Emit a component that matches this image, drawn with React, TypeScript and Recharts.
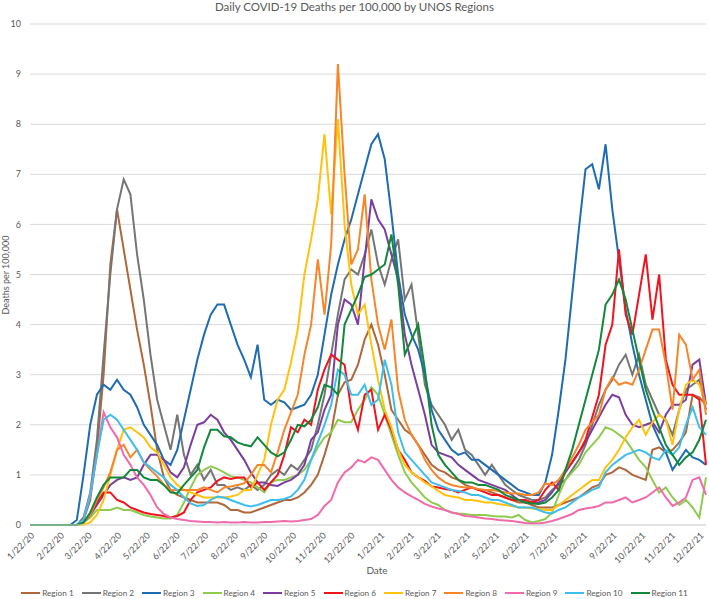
import { LineChart, Line, XAxis, YAxis, CartesianGrid } from "recharts"

// sampled every 7 days starting 1/22/20
const STEP_DAYS = 7

const tickLabels = [
  "1/22/20", "2/22/20", "3/22/20", "4/22/20", "5/22/20", "6/22/20",
  "7/22/20", "8/22/20", "9/22/20", "10/22/20", "11/22/20", "12/22/20",
  "1/22/21", "2/22/21", "3/22/21", "4/22/21", "5/22/21", "6/22/21",
  "7/22/21", "8/22/21", "9/22/21", "10/22/21", "11/22/21", "12/22/21"
]

const yTicks = [0, 1, 2, 3, 4, 5, 6, 7, 8, 9, 10]

const regionNames = [
  "Region 1", "Region 2", "Region 3", "Region 4", "Region 5", "Region 6",
  "Region 7", "Region 8", "Region 9", "Region 10", "Region 11"
]

const regionColors = [
  "#B0683A", "#757575", "#1F6CB0", "#8FCB4F", "#7B3E9E", "#F0141E",
  "#FFC20E", "#F7852A", "#F06AAC", "#3DBFEE", "#12883A"
]

const region1 = [
  0, 0, 0, 0, 0, 0, 0, 0, 0.1, 0.5,
  1.5, 3.0, 5.2, 6.3, 5.5, 4.7, 3.9, 3.2, 2.4, 1.5,
  0.95, 0.7, 0.6, 0.55, 0.5, 0.45, 0.45, 0.45, 0.45, 0.4,
  0.3, 0.3, 0.25, 0.25, 0.3, 0.35, 0.4, 0.45, 0.5, 0.5,
  0.55, 0.65, 0.8, 1.0, 1.4, 1.85, 2.6, 2.85, 2.9, 3.2,
  3.7, 4.0, 3.6, 3.0, 2.3, 2.1, 1.9, 1.8, 1.6, 1.4,
  1.2, 1.1, 1.05, 0.95, 0.9, 0.8, 0.75, 0.7, 0.7, 0.65,
  0.6, 0.55, 0.5, 0.45, 0.45, 0.4, 0.35, 0.35, 0.35, 0.4,
  0.45, 0.5, 0.55, 0.65, 0.75, 0.8, 1.0, 1.05, 1.15, 1.1,
  1.0, 0.95, 0.9, 1.5, 1.55, 1.45, 1.5, 1.65, 1.85, 2.6,
  2.55, 2.4
]

const region2 = [
  0, 0, 0, 0, 0, 0, 0, 0, 0.15, 0.65,
  1.7, 3.4, 5.0, 6.3, 6.9, 6.6, 5.4, 4.5, 3.4, 2.5,
  2.0, 1.5, 2.2, 1.4, 1.0, 1.2, 0.9, 1.1, 0.8, 0.8,
  0.7, 0.75, 0.7, 0.8, 0.7, 0.8, 1.0, 1.1, 1.0, 1.2,
  1.1, 1.3, 1.5, 2.0, 2.6, 3.4, 4.2, 4.9, 5.1, 5.0,
  5.4, 5.9, 5.2, 4.8, 5.3, 5.7, 4.5, 4.8, 3.8, 2.8,
  2.4, 2.2, 2.0, 1.7, 1.9, 1.5, 1.4, 1.2, 1.0, 1.2,
  1.0, 0.8, 0.7, 0.6, 0.55, 0.5, 0.5, 0.55, 0.7, 0.8,
  0.9, 1.1, 1.3, 1.6, 2.0, 2.4, 2.7, 2.9, 3.2, 3.4,
  3.0, 3.4, 2.8, 2.5, 2.2, 2.1, 1.8, 2.3, 2.7, 2.8,
  2.9, 2.3
]

const region3 = [
  0, 0, 0, 0, 0, 0, 0, 0.1, 1.0, 2.0,
  2.6, 2.8, 2.7, 2.9, 2.7, 2.6, 2.35, 2.0, 1.8, 1.6,
  1.3, 1.2, 1.5, 2.1, 2.7, 3.3, 3.8, 4.2, 4.4, 4.4,
  4.0, 3.6, 3.3, 2.95, 3.6, 2.5, 2.4, 2.5, 2.45, 2.3,
  2.35, 2.4, 2.6, 3.0, 3.8, 4.6, 5.2, 5.7, 6.1, 6.6,
  7.1, 7.6, 7.8, 7.3, 6.2, 5.0, 4.2, 3.8, 3.5, 3.0,
  2.3, 1.9, 1.7, 1.5, 1.4, 1.45, 1.3, 1.3, 1.2, 1.1,
  1.0, 0.9, 0.8, 0.7, 0.65, 0.6, 0.6, 0.85, 1.4, 2.3,
  3.3, 4.6, 5.9, 7.1, 7.2, 6.7, 7.6, 6.3, 5.3, 4.3,
  3.6, 3.0, 2.5, 2.0, 1.7, 1.45, 1.1, 1.3, 1.5, 1.35,
  1.3, 1.2
]

const region4 = [
  0, 0, 0, 0, 0, 0, 0, 0, 0.05, 0.15,
  0.3, 0.3, 0.3, 0.35, 0.3, 0.3, 0.25, 0.2, 0.17, 0.15,
  0.13, 0.13, 0.2, 0.45, 0.75, 1.0, 1.1, 1.17, 1.12, 1.05,
  0.97, 0.95, 0.9, 0.85, 0.75, 0.65, 0.85, 0.9, 0.9, 0.95,
  1.0, 1.1, 1.3, 1.55, 1.75, 1.85, 2.1, 2.05, 2.05, 2.3,
  2.5, 2.75, 2.6, 2.2, 1.8, 1.4, 1.05, 0.85, 0.7, 0.55,
  0.45, 0.4, 0.3, 0.25, 0.23, 0.22, 0.2, 0.2, 0.2, 0.18,
  0.17, 0.17, 0.15, 0.2, 0.1, 0.05, 0.08, 0.12, 0.25, 0.6,
  0.9, 1.05, 1.2, 1.45, 1.6, 1.75, 1.95, 1.9, 1.8, 1.7,
  1.5, 1.3, 1.15, 0.9, 0.65, 0.75, 0.55, 0.4, 0.5, 0.35,
  0.15, 0.95
]

const region5 = [
  0, 0, 0, 0, 0, 0, 0, 0, 0.05, 0.2,
  0.4, 0.6, 0.8, 0.9, 0.95, 0.9, 0.95, 1.2, 1.4, 1.4,
  1.3, 1.05, 0.95, 1.15, 1.6, 2.0, 2.05, 2.2, 2.1, 1.85,
  1.7, 1.5, 1.3, 1.05, 0.85, 0.85, 0.8, 0.78, 0.85, 0.9,
  1.0, 1.2, 1.7, 1.85, 2.3, 2.6, 4.0, 4.5, 4.4, 4.0,
  5.3, 6.5, 6.1, 5.9, 5.4, 4.9, 3.8, 3.2, 2.7, 2.2,
  1.6, 1.45, 1.4, 1.35, 1.2, 1.1, 1.0, 0.9, 0.85, 0.8,
  0.75, 0.7, 0.6, 0.5, 0.45, 0.45, 0.45, 0.5, 0.65, 0.85,
  1.05, 1.25, 1.45, 1.65, 1.9, 2.15, 2.4, 2.6, 2.55, 2.2,
  2.0, 1.95, 2.0, 2.05, 1.85, 2.2, 2.4, 2.4, 2.5, 3.2,
  3.3, 2.4
]

const region6 = [
  0, 0, 0, 0, 0, 0, 0, 0, 0.05, 0.2,
  0.45, 0.65, 0.65, 0.5, 0.45, 0.35, 0.3, 0.25, 0.22, 0.2,
  0.18, 0.15, 0.18, 0.25, 0.5, 0.65, 0.7, 0.75, 0.88, 0.95,
  0.92, 0.95, 0.95, 0.75, 0.85, 0.7, 0.85, 1.0, 1.4, 1.95,
  1.85, 2.1, 2.0, 2.7, 3.1, 3.4, 3.3, 3.2, 2.3, 1.9,
  2.6, 2.7, 1.9, 2.2, 1.9, 1.5, 1.3, 1.05, 0.95, 0.88,
  0.77, 0.75, 0.72, 0.7, 0.65, 0.7, 0.75, 0.7, 0.65, 0.6,
  0.6, 0.55, 0.5, 0.5, 0.5, 0.45, 0.5, 0.7, 0.85, 0.7,
  1.1, 1.25, 1.45, 1.7, 2.15, 2.6, 3.6, 4.0, 5.5, 4.2,
  3.8, 4.6, 5.4, 4.1, 5.0, 3.3, 2.8, 2.6, 2.6, 2.6,
  2.5, 1.2
]

const region7 = [
  0, 0, 0, 0, 0, 0, 0, 0, 0, 0.05,
  0.2, 0.5, 1.0, 1.5, 1.9, 1.95, 1.85, 1.75, 1.55, 1.45,
  1.2, 0.95, 0.8, 0.7, 0.65, 0.6, 0.55, 0.55, 0.55, 0.55,
  0.57, 0.6, 0.7, 0.7, 1.0, 1.3, 2.0, 2.5, 2.7, 3.25,
  3.9, 5.0, 5.7, 6.5, 7.8, 6.2, 8.1, 6.0, 4.8, 4.2,
  4.4, 3.6, 2.9, 2.3, 1.95, 1.5, 1.2, 1.05, 0.95, 0.85,
  0.77, 0.68, 0.6, 0.57, 0.55, 0.5, 0.5, 0.48, 0.45, 0.45,
  0.42, 0.4, 0.38, 0.35, 0.35, 0.33, 0.32, 0.3, 0.3, 0.4,
  0.5, 0.6, 0.7, 0.8, 0.9, 0.9, 1.15, 1.3, 1.5, 1.75,
  1.95, 2.1, 1.8, 2.05, 2.2, 2.1, 1.6, 2.3, 2.8, 2.9,
  2.8, 2.4
]

const region8 = [
  0, 0, 0, 0, 0, 0, 0, 0, 0.05, 0.2,
  0.5, 0.75, 1.05, 1.5, 1.6, 1.35, 1.5, 1.25, 1.1, 0.97,
  0.8, 0.7, 0.7, 0.7, 0.7, 0.7, 0.75, 0.7, 0.65, 0.75,
  0.77, 0.8, 0.83, 1.0, 1.2, 1.2, 1.05, 1.45, 1.9, 2.25,
  2.6, 3.4, 4.0, 5.3, 4.2, 5.6, 9.2, 7.0, 5.2, 5.5,
  6.6, 4.9, 4.0, 3.5, 4.1, 2.7, 2.1, 1.8, 1.6, 1.3,
  1.1, 0.95, 0.85, 0.8, 0.77, 0.75, 0.75, 0.72, 0.7, 0.7,
  0.68, 0.65, 0.63, 0.63, 0.6, 0.6, 0.65, 0.83, 0.8, 0.9,
  1.1, 1.35, 1.6, 1.9, 2.05, 2.2, 2.7, 2.95, 2.8, 2.85,
  2.8, 3.1, 3.5, 3.9, 3.9, 3.2, 2.3, 3.8, 3.6, 2.9,
  3.1, 2.2
]

const region9 = [
  0, 0, 0, 0, 0, 0, 0, 0, 0.1, 0.6,
  1.4, 2.25, 1.95, 1.75, 1.4, 1.2, 0.95, 0.8, 0.6, 0.35,
  0.22, 0.15, 0.12, 0.1, 0.08, 0.07, 0.06, 0.06, 0.05, 0.06,
  0.05, 0.05, 0.06, 0.05, 0.05, 0.06, 0.06, 0.07, 0.08, 0.07,
  0.08, 0.1, 0.12, 0.2, 0.38, 0.5, 0.85, 1.05, 1.15, 1.3,
  1.25, 1.35, 1.3, 1.1, 0.9, 0.75, 0.65, 0.57, 0.5, 0.42,
  0.37, 0.33, 0.3, 0.25, 0.22, 0.18, 0.17, 0.15, 0.13, 0.12,
  0.1, 0.09, 0.08, 0.06, 0.04, 0.03, 0.03, 0.05, 0.08, 0.12,
  0.17, 0.22, 0.3, 0.33, 0.35, 0.38, 0.45, 0.45, 0.5, 0.55,
  0.45, 0.5, 0.55, 0.65, 0.75, 0.55, 0.38, 0.45, 0.55, 0.9,
  0.95, 0.6
]

const region10 = [
  0, 0, 0, 0, 0, 0, 0, 0, 0.1, 0.6,
  1.4, 2.1, 2.2, 2.1, 1.9, 1.7, 1.5, 1.25, 1.15, 1.05,
  0.95, 0.8, 0.7, 0.55, 0.43, 0.38, 0.4, 0.5, 0.57, 0.55,
  0.5, 0.45, 0.4, 0.37, 0.4, 0.45, 0.5, 0.5, 0.52, 0.57,
  0.7, 0.9, 1.3, 1.65, 2.0, 2.4, 3.1, 3.0, 2.6, 2.6,
  2.8, 2.4, 2.5, 3.3, 2.8, 1.85, 1.45, 1.3, 1.15, 1.0,
  0.85, 0.8, 0.75, 0.7, 0.68, 0.65, 0.6, 0.6, 0.55, 0.5,
  0.5, 0.45, 0.4, 0.35, 0.35, 0.35, 0.3, 0.25, 0.23, 0.3,
  0.35, 0.45, 0.55, 0.62, 0.7, 0.75, 1.05, 1.2, 1.3, 1.4,
  1.45, 1.5, 1.45, 1.35, 1.3, 1.5, 1.4, 1.55, 2.0, 2.35,
  1.95, 1.8
]

const region11 = [
  0, 0, 0, 0, 0, 0, 0, 0, 0.05, 0.25,
  0.55, 0.8, 0.95, 0.95, 0.95, 1.1, 1.1, 0.95, 0.9, 0.9,
  0.8, 0.65, 0.63, 0.8, 0.95, 1.1, 1.55, 1.9, 1.9, 1.77,
  1.75, 1.65, 1.6, 1.57, 1.75, 1.6, 1.45, 1.37, 1.45, 1.7,
  2.0, 1.97, 2.1, 2.35, 2.8, 2.75, 2.6, 4.0, 4.3, 4.6,
  4.95, 5.0, 5.1, 5.2, 5.8, 4.8, 3.4, 3.7, 4.0, 3.1,
  2.0, 1.4, 1.2, 1.05, 0.9, 0.85, 0.85, 0.8, 0.8, 0.75,
  0.7, 0.6, 0.55, 0.5, 0.45, 0.43, 0.42, 0.45, 0.55, 0.7,
  1.1, 1.5, 2.0, 2.5, 3.0, 3.5, 4.4, 4.6, 4.9, 4.5,
  3.9, 3.3, 2.7, 2.3, 1.95, 1.6, 1.4, 1.2, 1.35, 1.45,
  1.7, 2.1
]

const regionValues = [
  region1, region2, region3, region4, region5, region6,
  region7, region8, region9, region10, region11
]

// days since 1/22/20 for an m/d/yy label
const START = Date.UTC(2020, 0, 22)
const dayOf = (label: string) => {
  const [m, d, y] = label.split("/").map(Number)
  return Math.round((Date.UTC(2000 + y, m - 1, d) - START) / 86400000)
}
const tickDays = tickLabels.map(dayOf)
const labelByDay = new Map(tickDays.map((d, i) => [d, tickLabels[i]]))

const rows = region1.map((_, i) => {
  const row: Record<string, number> = { day: i * STEP_DAYS }
  regionValues.forEach((vals, s) => {
    row[`r${s + 1}`] = vals[i]
  })
  return row
})

const TEXT = "#595959"

const DateTick = ({ x, y, payload }: any) => {
  const ax = x + 5
  const ay = y + 11
  return (
    <text
      x={ax}
      y={ay}
      transform={`rotate(-45 ${ax} ${ay})`}
      textAnchor="end"
      fontSize={9}
      fill={TEXT}
    >
      {labelByDay.get(payload.value) ?? ""}
    </text>
  )
}

export default function App() {
  return (
    <div
      style={{
        position: "absolute",
        left: 0,
        top: 0,
        width: 709,
        height: 599,
        background: "#fff",
        fontFamily: "Lato, 'Open Sans', sans-serif",
        color: TEXT
      }}
    >
      {/* title */}
      <div
        style={{
          position: "absolute",
          left: 0,
          top: 0,
          width: 709,
          textAlign: "center",
          fontSize: 11.5,
          lineHeight: "14px"
        }}
      >
        Daily COVID-19 Deaths per 100,000 by UNOS Regions
      </div>

      <LineChart
        width={709}
        height={599}
        data={rows}
        margin={{ top: 24, right: 3, bottom: 34, left: 0 }}
      >
        <CartesianGrid horizontal vertical={false} stroke="#D9D9D9" />
        <XAxis
          type="number"
          dataKey="day"
          domain={[0, 707]}
          ticks={tickDays}
          interval={0}
          height={40}
          tickSize={0}
          tickMargin={0}
          tickLine={false}
          stroke="#D9D9D9"
          tick={<DateTick />}
        />
        <YAxis
          domain={[0, 10]}
          ticks={yTicks}
          width={30}
          axisLine={false}
          tickLine={false}
          tickSize={0}
          tickMargin={9}
          tick={{ fontSize: 9, fill: TEXT }}
        />
        {regionNames.map((name, s) => (
          <Line
            key={name}
            type="linear"
            dataKey={`r${s + 1}`}
            name={name}
            stroke={regionColors[s]}
            strokeWidth={2}
            dot={false}
            isAnimationActive={false}
          />
        ))}
      </LineChart>

      {/* y axis title */}
      <div
        style={{
          position: "absolute",
          left: 6 - 100,
          top: 275 - 6,
          width: 200,
          height: 12,
          lineHeight: "12px",
          textAlign: "center",
          fontSize: 9,
          transform: "rotate(-90deg)"
        }}
      >
        Deaths per 100,000
      </div>

      {/* x axis title */}
      <div
        style={{
          position: "absolute",
          left: 377 - 50,
          top: 563,
          width: 100,
          textAlign: "center",
          fontSize: 10,
          lineHeight: "14px"
        }}
      >
        Date
      </div>

      {/* legend */}
      <div
        style={{
          position: "absolute",
          left: 8,
          top: 587,
          width: 701,
          display: "flex",
          justifyContent: "center",
          fontSize: 8.2,
          lineHeight: "12px",
          whiteSpace: "nowrap"
        }}
      >
        {regionNames.map((name, s) => (
          <div
            key={name}
            style={{
              display: "flex",
              alignItems: "center",
              marginRight: 8,
              flexShrink: 0
            }}
          >
            <span
              style={{
                display: "inline-block",
                width: 19,
                height: 2,
                background: regionColors[s],
                marginRight: 2
              }}
            />
            <span>{name}</span>
          </div>
        ))}
      </div>
    </div>
  )
}
